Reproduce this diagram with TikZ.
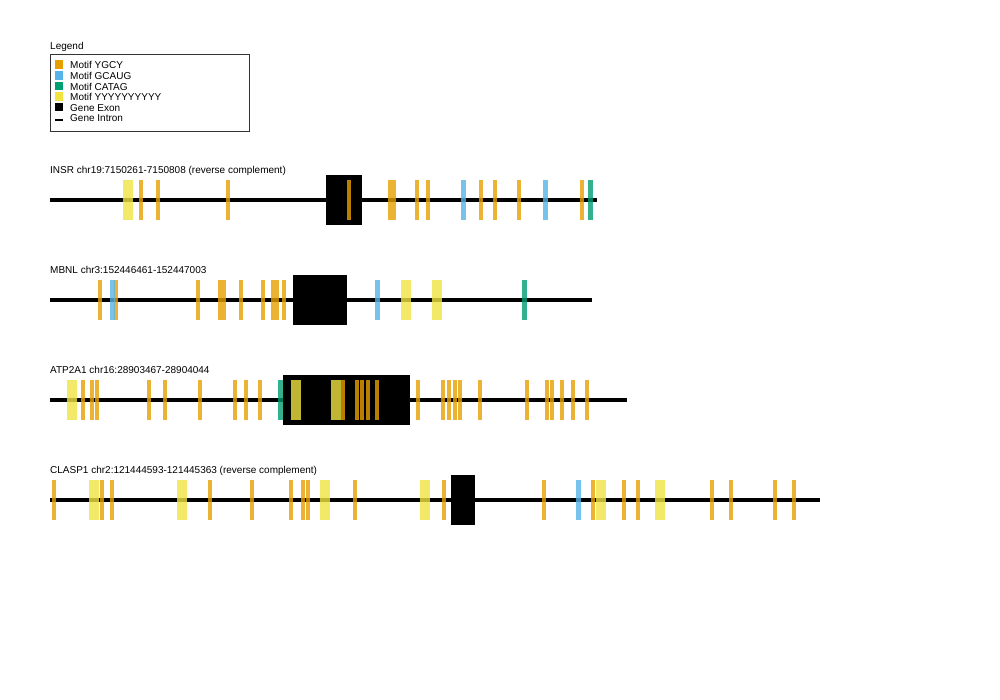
\documentclass[tikz,border=0pt]{standalone}
\usepackage{fontspec}
\setmainfont{Liberation Sans}
\definecolor{ygcy}{HTML}{E69F00}
\definecolor{gcaug}{HTML}{56B4E9}
\definecolor{catag}{HTML}{009E73}
\definecolor{ypoly}{HTML}{F0E442}
\tikzset{
  intron/.style={line width=4.5pt},
  exon/.style={fill=black},
  motif/.style={fill=#1, fill opacity=0.8},
  label/.style={anchor=base west, inner sep=0pt, font=\fontsize{10}{12}\selectfont}
}
\begin{document}
\begin{tikzpicture}[x=1pt, y=-1pt]
  \useasboundingbox (0,0) rectangle (1000,700);

  % legend
  \node[label] (legtitle) at (50,50) {Legend};
  \draw[black!80, line width=1pt] (50,55) rectangle (249,131.5);
  \foreach \i/\col/\txt in {0/ygcy/Motif YGCY, 1/gcaug/Motif GCAUG, 2/catag/Motif CATAG, 3/ypoly/Motif YYYYYYYYYY, 4/black/Gene Exon}
  {
    \fill[\col] (55,60.5+10.6*\i) rectangle ++(8,8.5);
    \node[label] (leg\i) at (70,69+10.6*\i) {\txt};
  }
  \draw[line width=2pt] (55,120) -- (63,120);
  \node[label] (leg5) at (70,122) {Gene Intron};

  % INSR
  \node[label] (labINSR) at (50,173.5) {INSR chr19:7150261-7150808 (reverse complement)};
  \draw[intron] (50,200) -- (597,200);
  \fill[exon] (326,175) rectangle (362,225);
  \foreach \xa/\w/\col in {123/10/ypoly, 139/4/ygcy, 156/4/ygcy, 226/4/ygcy, 347/4/ygcy, 388/4/ygcy, 392/4/ygcy, 415/4/ygcy, 426/4/ygcy, 461/5/gcaug, 479/4/ygcy, 493/4/ygcy, 517/4/ygcy, 543/5/gcaug, 580/4/ygcy, 588/5/catag}
    \fill[motif=\col] (\xa,180) rectangle ++(\w,40);

  % MBNL
  \node[label] (labMBNL) at (50,273.5) {MBNL chr3:152446461-152447003};
  \draw[intron] (50,300) -- (592,300);
  \fill[exon] (293,275) rectangle (347,325);
  \foreach \xa/\w/\col in {98/4/ygcy, 114/4/ygcy, 110/5/gcaug, 196/4/ygcy, 218/4/ygcy, 222/4/ygcy, 239/4/ygcy, 261/4/ygcy, 271/4/ygcy, 275/4/ygcy, 282/4/ygcy, 375/5/gcaug, 401/10/ypoly, 432/10/ypoly, 522/5/catag}
    \fill[motif=\col] (\xa,280) rectangle ++(\w,40);

  % ATP2A1
  \node[label] (labATP) at (50,373.5) {ATP2A1 chr16:28903467-28904044};
  \draw[intron] (50,400) -- (627,400);
  \fill[exon] (283,375) rectangle (410,425);
  \foreach \xa/\w/\col in {67/10/ypoly, 81/4/ygcy, 90/4/ygcy, 95/4/ygcy, 147/4/ygcy, 163/4/ygcy, 198/4/ygcy, 233/4/ygcy, 244/4/ygcy, 258/4/ygcy, 278/5/catag, 291/10/ypoly, 331/10/ypoly, 341/4/ygcy, 355/4/ygcy, 360/4/ygcy, 366/4/ygcy, 375/4/ygcy, 416/4/ygcy, 441/4/ygcy, 447/4/ygcy, 453/4/ygcy, 458/4/ygcy, 478/4/ygcy, 525/4/ygcy, 545/4/ygcy, 550/4/ygcy, 560/4/ygcy, 571/4/ygcy, 585/4/ygcy}
    \fill[motif=\col] (\xa,380) rectangle ++(\w,40);

  % CLASP1
  \node[label] (labCLASP) at (50,473.5) {CLASP1 chr2:121444593-121445363 (reverse complement)};
  \draw[intron] (50,500) -- (820,500);
  \fill[exon] (451,475) rectangle (475,525);
  \foreach \xa/\w/\col in {52/4/ygcy, 89/10/ypoly, 100/4/ygcy, 110/4/ygcy, 177/10/ypoly, 208/4/ygcy, 250/4/ygcy, 289/4/ygcy, 301/4/ygcy, 306/4/ygcy, 320/10/ypoly, 353/4/ygcy, 420/10/ypoly, 442/4/ygcy, 542/4/ygcy, 576/5/gcaug, 591/4/ygcy, 596/10/ypoly, 622/4/ygcy, 636/4/ygcy, 655/10/ypoly, 710/4/ygcy, 729/4/ygcy, 773/4/ygcy, 792/4/ygcy}
    \fill[motif=\col] (\xa,480) rectangle ++(\w,40);
\end{tikzpicture}
\end{document}
